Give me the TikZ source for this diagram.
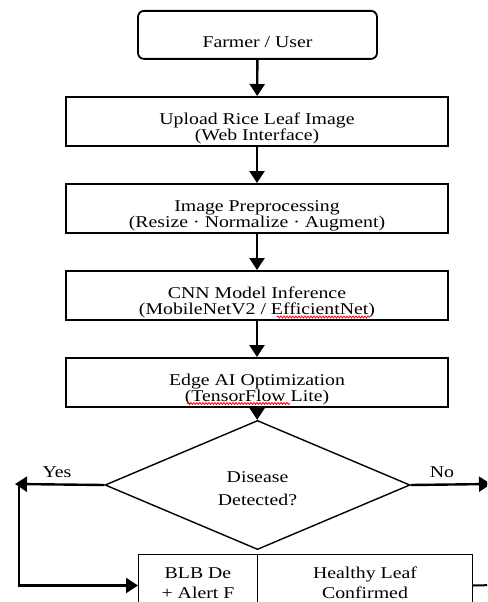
\documentclass[tikz,border=0pt]{standalone}
\usepackage{fontspec}
\setmainfont{Liberation Serif}[FakeStretch=1.2]
\usetikzlibrary{arrows.meta,shapes.geometric,decorations.pathmorphing}
\newcommand\boxfont{\fontsize{16.5pt}{16.5pt}\selectfont}
\newcommand\lowfont{\fontsize{16.5pt}{20pt}\selectfont}
\newcommand\decfont{\fontsize{16.5pt}{23pt}\selectfont}
\tikzset{
  stagebox/.style={draw,line width=1.6pt,minimum width=382pt,inner sep=0pt,
    text height=44pt,text depth=5pt,align=center,font=\boxfont},
  userbox/.style={draw,line width=1.8pt,rounded corners=6pt,minimum width=239pt,
    inner sep=0pt,text height=37pt,text depth=11pt,align=center,font=\boxfont},
  decbox/.style={draw,diamond,line width=1.4pt,minimum width=305pt,minimum height=80pt,
    inner sep=0pt,text height=45pt,text depth=5pt,align=center,font=\decfont},
  outbox/.style={draw,line width=1pt,inner sep=0pt,text height=44pt,text depth=18pt,
    align=center,font=\lowfont},
  flowarrow/.style={line width=2.4pt,-{Triangle[width=15pt,length=12pt]}},
  spellmark/.style={red,line width=.8pt,decorate,
    decoration={snake,amplitude=1pt,segment length=3pt}}
}
\begin{document}
\begin{tikzpicture}[x=1pt,y=-1pt]
  \useasboundingbox (0,0) rectangle (487,602);
  \clip (0,0) rectangle (487,602);
  % stages
  \node[userbox,anchor=north] (user) at (257.5,10) {Farmer / User};
  \node[stagebox,anchor=north] (upload) at (257,96) {Upload Rice Leaf Image\\(Web Interface)};
  \node[stagebox,anchor=north] (prep) at (257,183) {Image Preprocessing\\(Resize · Normalize · Augment)};
  \node[stagebox,anchor=north] (cnn) at (257,270) {CNN Model Inference\\(MobileNetV2 / EfficientNet)};
  \node[stagebox,anchor=north] (edge) at (257,357) {Edge AI Optimization\\(TensorFlow Lite)};
  \node[decbox] (dec) at (257.5,485) {Disease\\Detected?};
  % results
  \node[outbox,anchor=north west,minimum width=119pt] (blb) at (138,554) {BLB De\\+ Alert F};
  \node[outbox,anchor=north west,minimum width=215pt] (healthy) at (257,554) {Healthy Leaf\\Confirmed};
  \coordinate (yestip) at (15,484);
  \coordinate (yescorner) at (19,484);
  \coordinate (notip) at (491,484);
  \coordinate (outright) at (495,585);
  % connectors
  \draw[flowarrow] (user) -- (upload);
  \draw[flowarrow] (upload) -- (prep);
  \draw[flowarrow] (prep) -- (cnn);
  \draw[flowarrow] (cnn) -- (edge);
  \draw[flowarrow] (edge) -- (dec);
  \draw[flowarrow] (dec.west) -- (yestip);
  \draw[flowarrow] (dec.east) -- (notip);
  \draw[flowarrow] (yescorner) |- (blb.west);
  \draw[line width=2pt] (healthy.east) -- (outright);
  \node[font=\boxfont,anchor=base] (yes) at (57,477) {Yes};
  \node[font=\boxfont,anchor=base] (no) at (442,477) {No};
  % spell check marks
  \draw[spellmark] (277,317) -- (370,317);
  \draw[spellmark] (187,403.5) -- (290,403.5);
\end{tikzpicture}
\end{document}
